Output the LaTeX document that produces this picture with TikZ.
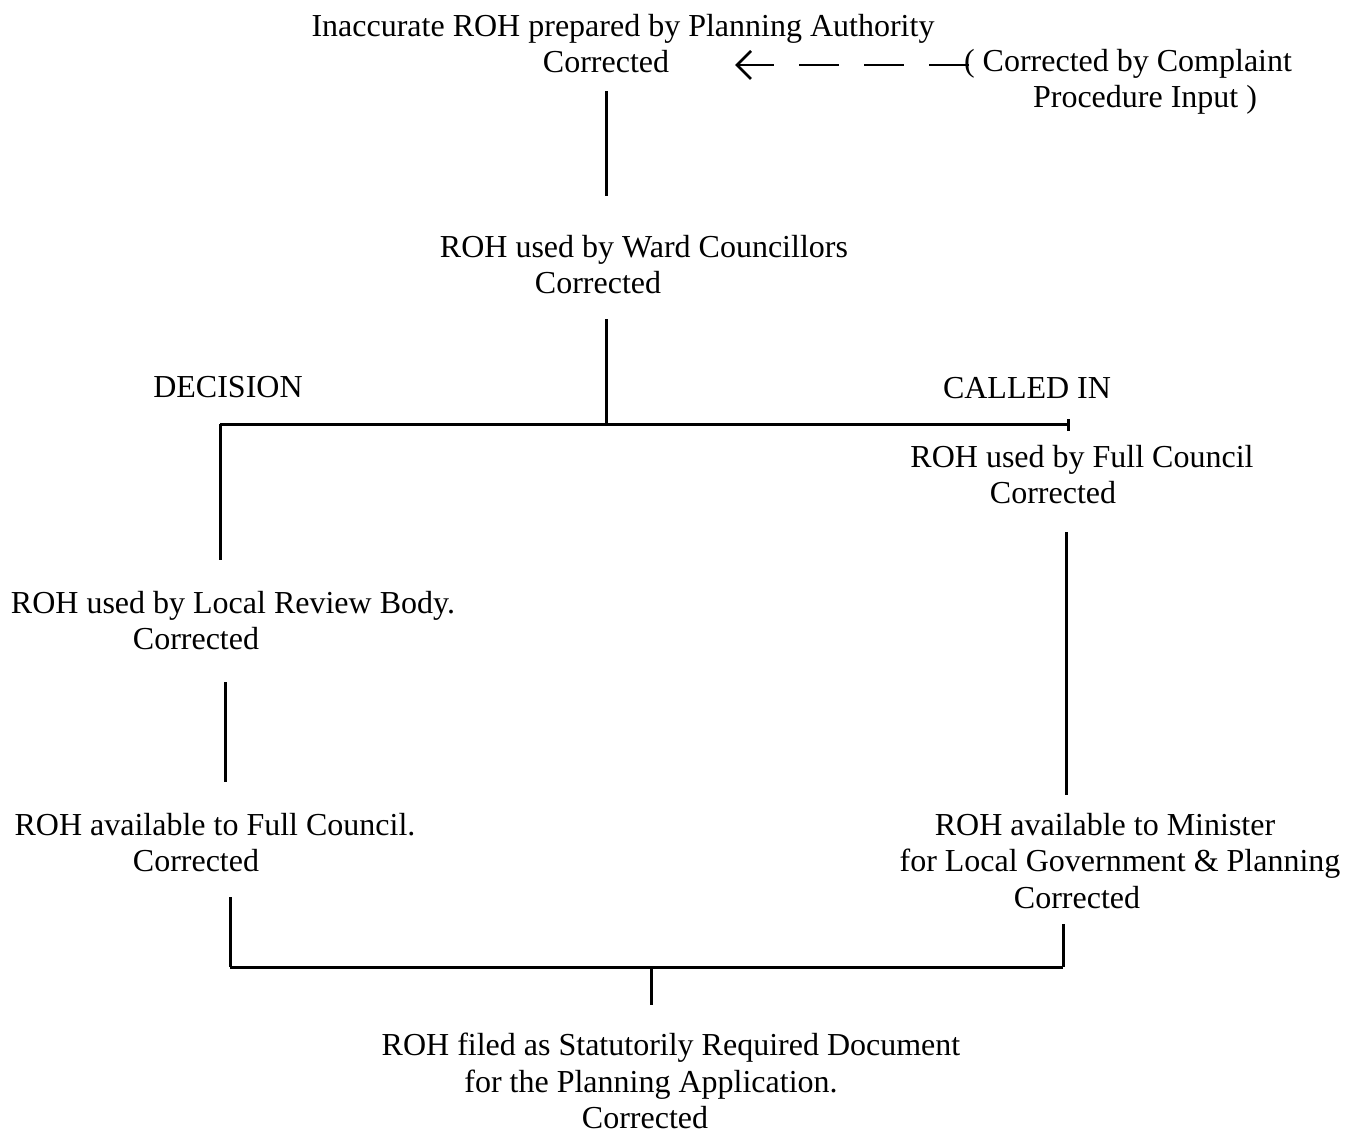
\documentclass[tikz,border=0pt]{standalone}
\usepackage{fontspec}
\setmainfont{Liberation Serif}
\usepackage{tikz}
\usetikzlibrary{arrows.meta}

\tikzset{
	roh/.style={align=center, inner sep=0pt, font=\fontsize{16pt}{18.25pt}\selectfont},
	flow/.style={line width=1.5pt},
	backflow/.style={line width=1.4pt, dash pattern=on 20pt off 12.5pt,
		-{Straight Barb[length=7pt,width=14pt,line width=1.4pt]}}
}
% empty push to move a short line off the centre
\newcommand{\pad}[1]{\rule{#1}{0pt}}

\begin{document}
\begin{tikzpicture}[x=0.5pt,y=-0.5pt]
	\useasboundingbox (0,0) rectangle (1352,1133);
	
	% top of the chain
	\node[roh] (top) at (623,43.5) {Inaccurate ROH prepared by Planning Authority\\Corrected\pad{17pt}};
	\node[roh] (complaint) at (1128,82) {( Corrected by Complaint\\\pad{17pt}Procedure Input )};
	\coordinate (tip) at (735,65);
	\draw[backflow] ([xshift=2.5pt,yshift=8.5pt]complaint.west) -- (tip);
	
	\node[roh] (ward) at (644,264.5) {ROH used by Ward Councillors\\Corrected\pad{46pt}};
	
	% split
	\coordinate (split) at (606,424);
	\coordinate (splitL) at (220,424);
	\coordinate (splitR) at (1068,424);
	\node[roh] (decision) at (228,387) {DECISION};
	\node[roh] (calledin) at (1027,388) {CALLED IN};
	
	\node[roh] (fc) at (1082,474.5) {ROH used by Full Council\\Corrected\pad{29pt}};
	\node[roh] (lrb) at (233,620.5) {ROH used by Local Review Body.\\Corrected\pad{37pt}};
	\node[roh] (afc) at (215,842.5) {ROH available to Full Council.\\Corrected\pad{19pt}};
	\node[roh] (minister) at (1120,861) {ROH available to Minister\pad{15pt}\\for Local Government \& Planning\\Corrected\pad{43pt}};
	
	% join
	\coordinate (join) at (651,967);
	\coordinate (joinL) at (230,967);
	\coordinate (joinR) at (1063,967);
	\node[roh] (filed) at (671,1081) {ROH filed as Statutorily Required Document\\for the Planning Application.\pad{20pt}\\Corrected\pad{26pt}};
	
	% connectors
	\draw[flow, shorten <=9pt, shorten >=19.5pt] (top.south -| split) -- (ward.north -| split);
	\draw[flow, shorten <=12.5pt] (ward.south -| split) -- (split);
	\draw[flow] (splitL) -- (splitR);
	\draw[flow] (splitR) ++(0,-5) -- ++(0,12);
	\draw[flow, shorten >=15.5pt] (splitL) -- (lrb.north -| splitL);
	\draw[flow, shorten <=16pt, shorten >=15.5pt] ([xshift=2.5pt]lrb.south -| splitL) -- ([xshift=2.5pt]afc.north -| splitL);
	\draw[flow, shorten <=12.5pt] (afc.south -| joinL) -- (joinL);
	\draw[flow, shorten <=14pt, shorten >=9pt] ([xshift=1.5pt]fc.south -| joinR) -- ([xshift=1.5pt]minister.north -| joinR);
	\draw[flow, shorten <=7.5pt] (minister.south -| joinR) -- (joinR);
	\draw[flow] (joinL) -- (joinR);
	\draw[flow, shorten >=14pt] (join) -- (filed.north -| join);
\end{tikzpicture}
\end{document}
